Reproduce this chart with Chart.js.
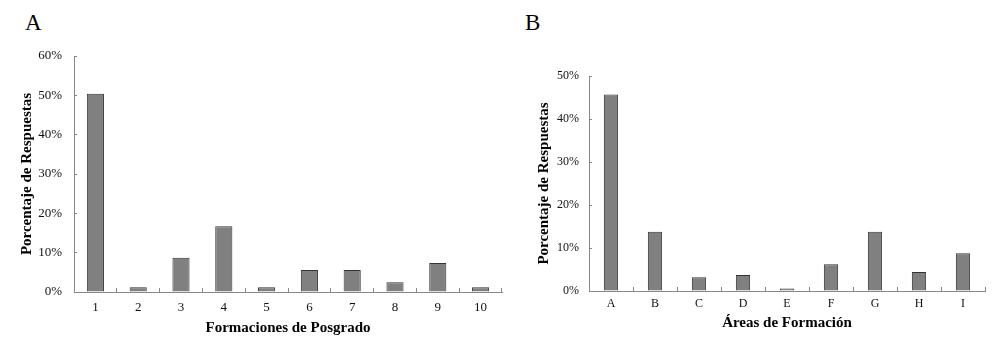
<!DOCTYPE html>
<html>
<head>
<meta charset="utf-8">
<script src="https://cdn.jsdelivr.net/npm/chart.js@4.4.1/dist/chart.umd.min.js"></script>
<style>
  html, body { margin: 0; padding: 0; background: #fff; }
  body { width: 1000px; height: 353px; position: relative; overflow: hidden; font-family: "Liberation Serif", serif; }
  .panel { position: absolute; top: 0; height: 353px; }
  #wrapA { left: 0; width: 510px; }
  #wrapB { left: 500px; width: 500px; }
  .lbl { position: absolute; font-family: "Liberation Serif", serif; font-size: 23px; color: #000; line-height: 1; }
</style>
</head>
<body>
<div class="lbl" style="left:25px; top:11px;">A</div>
<div class="lbl" style="left:525px; top:11px;">B</div>
<div class="panel" id="wrapA"><canvas id="chartA" width="510" height="353"></canvas></div>
<div class="panel" id="wrapB"><canvas id="chartB" width="500" height="353"></canvas></div>
<script>
// ---- Data ----
const categoriesA = ["1", "2", "3", "4", "5", "6", "7", "8", "9", "10"];
const valuesA = [50.4, 1.2, 8.7, 16.7, 1.2, 5.6, 5.6, 2.5, 7.4, 1.2];
const yTicksA = [0, 10, 20, 30, 40, 50, 60];

const categoriesB = ["A", "B", "C", "D", "E", "F", "G", "H", "I"];
const valuesB = [45.7, 13.8, 3.2, 3.7, 0.6, 6.2, 13.8, 4.4, 8.8];
const yTicksB = [0, 10, 20, 30, 40, 50];

const yTitle = "Porcentaje de Respuestas";
const xTitleA = "Formaciones de Posgrado";
const xTitleB = "Áreas de Formación";

const AXIS = "#888888";
const SERIF = "'Liberation Serif', 'Times New Roman', serif";

function makeChart(id, cats, vals, yTicks, xTitle, cfg) {
  const ctx = document.getElementById(id);
  return new Chart(ctx, {
    type: 'bar',
    data: {
      labels: cats,
      datasets: [{
        data: vals,
        backgroundColor: '#808080',
        borderColor: '#333333',
        borderWidth: 1,
        borderSkipped: 'bottom',
        barPercentage: cfg.barPct,
        categoryPercentage: 1.0
      }]
    },
    options: {
      responsive: false,
      animation: false,
      events: [],
      layout: { padding: { left: 0, top: cfg.top, right: cfg.right, bottom: 0 } },
      plugins: { legend: { display: false }, tooltip: { enabled: false } },
      scales: {
        x: {
          offset: true,
          grid: { display: true, offset: true, drawOnChartArea: false, drawTicks: true, tickLength: -4, color: AXIS, lineWidth: 1 },
          border: { display: true, color: AXIS, width: 1 },
          ticks: { color: '#111', font: { family: SERIF, size: cfg.tickSize }, padding: cfg.xPad, maxRotation: 0, autoSkip: false },
          title: { display: true, text: xTitle, color: '#000', font: { family: SERIF, size: 15, weight: 'bold' }, padding: { top: 0, bottom: cfg.xTitlePad } },
          afterFit: (s) => { s.height = cfg.xHeight; }
        },
        y: {
          min: 0,
          max: yTicks[yTicks.length - 1],
          afterBuildTicks: (s) => { s.ticks = yTicks.map(v => ({ value: v })); },
          grid: { display: true, drawOnChartArea: false, drawTicks: true, tickLength: -3, color: AXIS, lineWidth: 1 },
          border: { display: true, color: AXIS, width: 1 },
          ticks: { color: '#111', font: { family: SERIF, size: cfg.tickSize }, padding: cfg.yPad, callback: (v) => v + '%' },
          title: { display: true, text: yTitle, color: '#000', font: { family: SERIF, size: 15, weight: 'bold' }, padding: { top: cfg.yTitlePad, bottom: 0 } },
          afterFit: (s) => { s.width = cfg.yWidth; }
        }
      }
    }
  });
}

makeChart('chartA', categoriesA, valuesA, yTicksA, xTitleA, {
  barPct: 0.4, top: 56, right: 8, xHeight: 61, yWidth: 74,
  tickSize: 13, xPad: 12, yPad: 15, xTitlePad: 16, yTitlePad: 18
});
makeChart('chartB', categoriesB, valuesB, yTicksB, xTitleB, {
  barPct: 0.325, top: 76, right: 15, xHeight: 62, yWidth: 89,
  tickSize: 12, xPad: 10, yPad: 13, xTitlePad: 21, yTitlePad: 35
});
</script>
</body>
</html>
